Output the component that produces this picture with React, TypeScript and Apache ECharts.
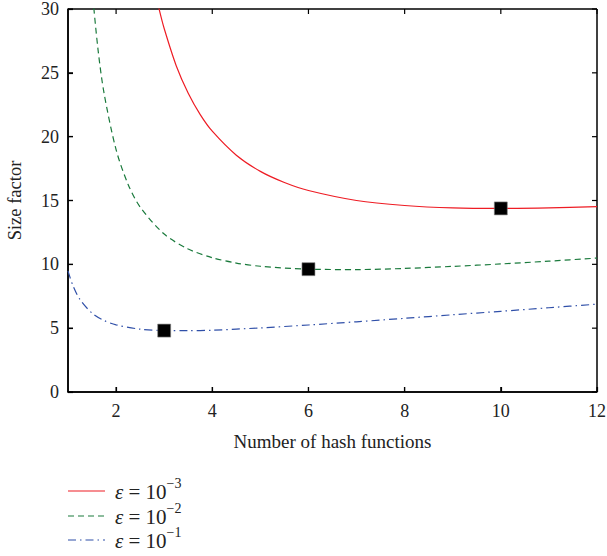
import React, { useEffect, useRef } from "react";
import * as echarts from "echarts";

const redX = [2.8, 2.9, 3, 3.25, 3.5, 3.75, 4, 4.5, 5, 5.5, 6, 7, 8, 9, 10, 11, 12];
const redY = [31.56, 29.91, 28.47, 25.56, 23.4, 21.73, 20.43, 18.55, 17.28, 16.41, 15.78, 15.0, 14.61, 14.42, 14.38, 14.42, 14.52];
const greenX = [1.45, 1.5, 1.625, 1.75, 2, 2.25, 2.5, 3, 3.5, 4, 4.5, 5, 6, 7, 8, 9, 10, 11, 12];
const greenY = [34.0, 31.6, 26.8, 23.4, 18.98, 16.26, 14.49, 12.37, 11.2, 10.52, 10.1, 9.85, 9.62, 9.59, 9.68, 9.84, 10.03, 10.25, 10.49];
const blueX = [1, 1.1, 1.25, 1.5, 1.75, 2, 2.5, 3, 3.5, 4, 5, 6, 7, 8, 9, 10, 11, 12];
const blueY = [9.49, 8.36, 7.24, 6.18, 5.6, 5.26, 4.92, 4.81, 4.8, 4.84, 5.02, 5.25, 5.5, 5.77, 6.05, 6.32, 6.6, 6.88];
const optimumX = [10, 6, 3];
const optimumY = [14.38, 9.62, 4.81];
const xTicks = [2, 4, 6, 8, 10, 12];
const yTicks = [0, 5, 10, 15, 20, 25, 30];
const xRange = [1, 12];
const yRange = [0, 30];
const legendExponents = ["−3", "−2", "−1"];

const RED = "#ee1c24";
const GREEN = "#1a7a3c";
const BLUE = "#2f4fa8";
const FONT = "Liberation Serif";
const TXT = "#222";
const AX = "#000000";

const zip = (xs: number[], ys: number[]) => xs.map((x, i) => [x, ys[i]]);

export default function App() {
  const ref = useRef<HTMLDivElement>(null);
  useEffect(() => {
    const chart = echarts.init(ref.current!, null, { renderer: "svg" });
    const lineColors = [RED, GREEN, BLUE];
    const lineTypes: any[] = ["solid", [6, 4], [8, 4, 1.5, 4]];
    chart.setOption({
      animation: false,
      grid: { left: 68, right: 10, top: 9, bottom: 164, outerBoundsMode: "none", containLabel: false },
      xAxis: [
        {
          type: "value", min: xRange[0], max: xRange[1], position: "bottom",
          name: "Number of hash functions", nameLocation: "middle", nameGap: 40,
          nameTextStyle: { fontFamily: FONT, fontSize: 19, color: TXT },
          axisLine: { show: true, onZero: false, lineStyle: { color: AX, width: 1.5 } },
          axisTick: { show: true, inside: true, length: 5, customValues: xTicks, lineStyle: { color: AX, width: 1.2 } },
          axisLabel: { fontFamily: FONT, fontSize: 18, color: TXT, margin: 10, customValues: xTicks },
          splitLine: { show: false },
        },
      ],
      yAxis: [
        {
          type: "value", min: yRange[0], max: yRange[1], interval: 5, position: "left",
          name: "Size factor", nameLocation: "middle", nameGap: 44,
          nameTextStyle: { fontFamily: FONT, fontSize: 18.5, color: TXT },
          axisLine: { show: true, onZero: false, lineStyle: { color: AX, width: 1.5 } },
          axisTick: { show: true, inside: true, length: 5, lineStyle: { color: AX, width: 1.2 } },
          axisLabel: { fontFamily: FONT, fontSize: 18, color: TXT, margin: 9 },
          splitLine: { show: false },
        },
      ],
      series: [
        {
          type: "line", data: zip(redX, redY), smooth: 0.3,
          showSymbol: false, symbol: "none", clip: true,
          lineStyle: { color: RED, width: 1.2, type: "solid" },
        },
        {
          type: "line", data: zip(greenX, greenY), smooth: 0.3,
          showSymbol: false, symbol: "none", clip: true,
          lineStyle: { color: GREEN, width: 1.2, type: lineTypes[1] },
        },
        {
          type: "line", data: zip(blueX, blueY), smooth: 0.3,
          showSymbol: false, symbol: "none", clip: true,
          lineStyle: { color: BLUE, width: 1.2, type: lineTypes[2] },
        },
        {
          type: "scatter", data: zip(optimumX, optimumY), symbol: "rect", symbolSize: 13,
          itemStyle: { color: "#000", opacity: 1, borderColor: "#888", borderWidth: 0.6 }, z: 5,
        },
      ],
    });

    // Box frame and inward ticks on all four sides, placed through the chart's scales.
    const px = (x: number, y: number) => chart.convertToPixel({ xAxisIndex: 0, yAxisIndex: 0 }, [x, y]) as number[];
    const bl = px(xRange[0], yRange[0]);
    const tr = px(xRange[1], yRange[1]);
    const g: any[] = [];
    const seg = (x1: number, y1: number, x2: number, y2: number, w: number) =>
      g.push({ type: "line", shape: { x1, y1, x2, y2 }, style: { stroke: AX, lineWidth: w } });
    seg(bl[0], tr[1], tr[0], tr[1], 1.5);
    seg(tr[0], tr[1], tr[0], bl[1], 1.5);
    seg(bl[0], bl[1], tr[0], bl[1], 1.5);
    seg(bl[0], tr[1], bl[0], bl[1], 1.5);
    const T = 5;
    xTicks.forEach((v) => {
      const x = px(v, yRange[0])[0];
      seg(x, bl[1], x, bl[1] - T, 1.2);
      seg(x, tr[1], x, tr[1] + T, 1.2);
    });
    yTicks.forEach((v) => {
      const y = px(xRange[0], v)[1];
      seg(bl[0], y, bl[0] + T, y, 1.2);
      seg(tr[0], y, tr[0] - T, y, 1.2);
    });
    const legendY = [491, 516, 540];
    legendY.forEach((y, i) => {
      g.push({
        type: "line",
        shape: { x1: 68, y1: y, x2: 105, y2: y },
        style: { stroke: lineColors[i], lineWidth: 1.2, lineDash: i === 0 ? null : lineTypes[i] },
      });
      g.push({
        type: "text",
        x: 115,
        y: y - 15,
        style: {
          text: "{e|ε}{m| = 10}{s|" + legendExponents[i] + "}",
          rich: {
            e: { fontFamily: FONT, fontSize: 21, fill: TXT, fontStyle: "italic", lineHeight: 26, verticalAlign: "bottom" },
            m: { fontFamily: FONT, fontSize: 21, fill: TXT, lineHeight: 26, verticalAlign: "bottom" },
            s: { fontFamily: FONT, fontSize: 14, fill: TXT, lineHeight: 26, verticalAlign: "top" },
          },
        },
      });
    });
    chart.setOption({ graphic: g });
    return () => chart.dispose();
  }, []);
  return <div ref={ref} style={{ position: "absolute", left: 0, top: 0, width: 607, height: 556, background: "#fff" }} />;
}
